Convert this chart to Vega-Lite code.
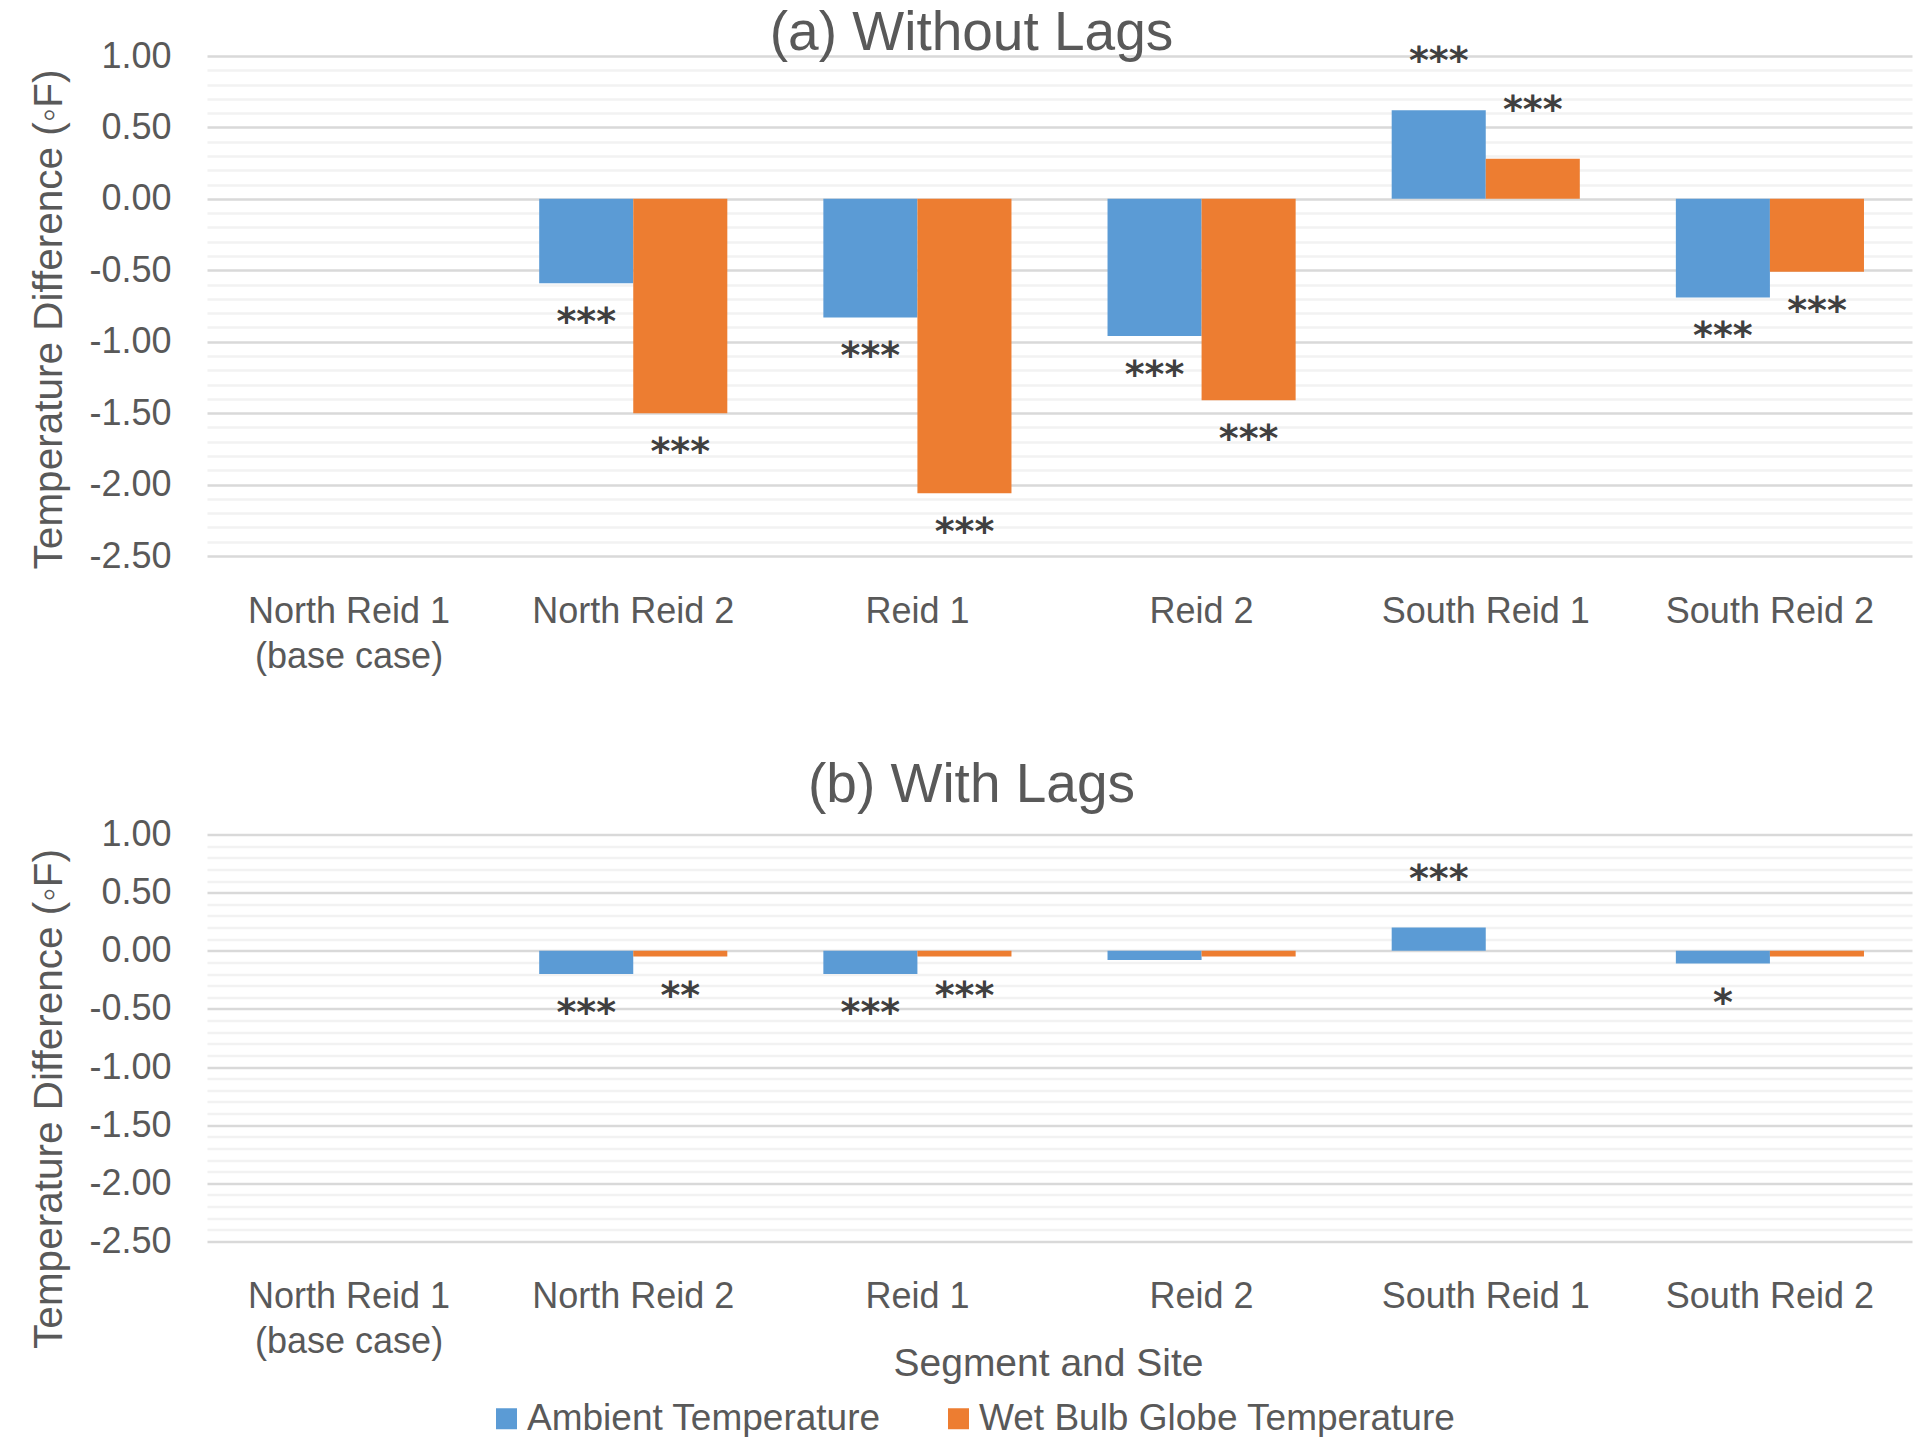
{
  "$schema": "https://vega.github.io/schema/vega-lite/v6.json",
  "background": "white",
  "autosize": {"type": "pad"},
  "padding": {"left": 28, "top": 6, "right": 8, "bottom": 4},
  "bounds": "flush",
  "spacing": 278.5,
  "config": {
    "font": "Liberation Sans",
    "view": {"stroke": null},
    "axis": {
      "labelFont": "Liberation Sans",
      "titleFont": "Liberation Sans",
      "labelColor": "#595959",
      "titleColor": "#595959",
      "titleFontWeight": "normal"
    },
    "title": {"font": "Liberation Sans", "color": "#595959", "fontWeight": "normal", "fontSize": 55}
  },
  "datasets": {
    "without_lags": [
      {"segment": "North Reid 1 (base case)", "series": "Ambient Temperature", "value": 0, "sig": ""},
      {"segment": "North Reid 1 (base case)", "series": "Wet Bulb Globe Temperature", "value": 0, "sig": ""},
      {"segment": "North Reid 2", "series": "Ambient Temperature", "value": -0.59, "sig": "***"},
      {"segment": "North Reid 2", "series": "Wet Bulb Globe Temperature", "value": -1.50, "sig": "***"},
      {"segment": "Reid 1", "series": "Ambient Temperature", "value": -0.83, "sig": "***"},
      {"segment": "Reid 1", "series": "Wet Bulb Globe Temperature", "value": -2.06, "sig": "***"},
      {"segment": "Reid 2", "series": "Ambient Temperature", "value": -0.96, "sig": "***"},
      {"segment": "Reid 2", "series": "Wet Bulb Globe Temperature", "value": -1.41, "sig": "***"},
      {"segment": "South Reid 1", "series": "Ambient Temperature", "value": 0.62, "sig": "***"},
      {"segment": "South Reid 1", "series": "Wet Bulb Globe Temperature", "value": 0.28, "sig": "***"},
      {"segment": "South Reid 2", "series": "Ambient Temperature", "value": -0.69, "sig": "***"},
      {"segment": "South Reid 2", "series": "Wet Bulb Globe Temperature", "value": -0.51, "sig": "***"}
    ],
    "with_lags": [
      {"segment": "North Reid 1 (base case)", "series": "Ambient Temperature", "value": 0, "sig": ""},
      {"segment": "North Reid 1 (base case)", "series": "Wet Bulb Globe Temperature", "value": 0, "sig": ""},
      {"segment": "North Reid 2", "series": "Ambient Temperature", "value": -0.20, "sig": "***"},
      {"segment": "North Reid 2", "series": "Wet Bulb Globe Temperature", "value": -0.05, "sig": "**"},
      {"segment": "Reid 1", "series": "Ambient Temperature", "value": -0.20, "sig": "***"},
      {"segment": "Reid 1", "series": "Wet Bulb Globe Temperature", "value": -0.05, "sig": "***"},
      {"segment": "Reid 2", "series": "Ambient Temperature", "value": -0.08, "sig": ""},
      {"segment": "Reid 2", "series": "Wet Bulb Globe Temperature", "value": -0.05, "sig": ""},
      {"segment": "South Reid 1", "series": "Ambient Temperature", "value": 0.20, "sig": "***"},
      {"segment": "South Reid 1", "series": "Wet Bulb Globe Temperature", "value": 0.00, "sig": ""},
      {"segment": "South Reid 2", "series": "Ambient Temperature", "value": -0.11, "sig": "*"},
      {"segment": "South Reid 2", "series": "Wet Bulb Globe Temperature", "value": -0.05, "sig": ""}
    ]
  },
  "vconcat": [
    {
      "width": 1705,
      "height": 500,
      "data": {"name": "without_lags"},
      "title": {"text": "(a) Without Lags", "anchor": "middle", "dx": -88, "offset": -67, "baseline": "alphabetic"},
      "encoding": {
        "x": {
          "field": "segment", "type": "nominal",
          "sort": ["North Reid 1 (base case)", "North Reid 2", "Reid 1", "Reid 2", "South Reid 1", "South Reid 2"],
          "scale": {"paddingInner": 0.338, "paddingOuter": 0.169},
          "axis": {
            "title": null,
            "labelExpr": "datum.value == 'North Reid 1 (base case)' ? ['North Reid 1', '(base case)'] : datum.value",
            "labelAngle": 0, "labelFontSize": 36, "labelBaseline": "alphabetic", "labelPadding": 66,
            "labelLineHeight": 45, "ticks": false, "tickSize": 0, "domain": false, "grid": false, "labelLimit": 0
          }
        },
        "xOffset": {
          "field": "series", "type": "nominal",
          "sort": ["Ambient Temperature", "Wet Bulb Globe Temperature"],
          "scale": {"paddingInner": 0, "paddingOuter": 0}
        },
        "y": {
          "field": "value", "type": "quantitative",
          "scale": {"domain": [-2.5, 1], "nice": false},
          "axis": {
            "title": "Temperature Difference (\u25e6F)",
            "values": [1, 0.9, 0.8, 0.7, 0.6, 0.5, 0.4, 0.3, 0.2, 0.1, 0, -0.1, -0.2, -0.3, -0.4, -0.5, -0.6, -0.7, -0.8, -0.9, -1, -1.1, -1.2, -1.3, -1.4, -1.5, -1.6, -1.7, -1.8, -1.9, -2, -2.1, -2.2, -2.3, -2.4, -2.5],
            "grid": true,
            "gridColor": {"condition": {"test": "abs(datum.value * 2 - round(datum.value * 2)) < 0.001", "value": "#D9D9D9"}, "value": "#F2F2F2"},
            "gridWidth": 2.5,
            "ticks": false, "tickSize": 0, "domain": false,
            "labelExpr": "abs(datum.value * 2 - round(datum.value * 2)) < 0.001 ? replace(format(datum.value, '.2f'), '\u2212', '-') : ''",
            "labelOverlap": false, "labelFlush": false, "labelBound": false,
            "labelFontSize": 36, "labelPadding": 36,
            "titleFontSize": 40.5, "titleAngle": -90, "titleX": -146, "titleY": 263,
            "titleAlign": "center", "titleBaseline": "alphabetic"
          }
        }
      },
      "layer": [
        {
          "mark": {"type": "bar"},
          "encoding": {
            "color": {
              "field": "series", "type": "nominal",
              "scale": {"domain": ["Ambient Temperature", "Wet Bulb Globe Temperature"], "range": ["#5B9BD5", "#ED7D31"]},
              "legend": {
                "title": null, "orient": "none", "direction": "horizontal", "legendX": 281, "legendY": 1344,
                "symbolType": "square", "symbolSize": 441, "symbolStrokeWidth": 0,
                "labelFontSize": 37, "labelColor": "#595959", "labelFont": "Liberation Sans", "labelLimit": 0,
                "labelOffset": 2, "columnPadding": 59, "padding": 0
              }
            }
          }
        },
        {
          "transform": [{"filter": "datum.value < 0 && datum.sig != ''"}],
          "mark": {"type": "text", "font": "DejaVu Sans", "fontSize": 38, "fontWeight": "bold", "color": "#404040", "align": "center", "baseline": "alphabetic", "dy": 51},
          "encoding": {"text": {"field": "sig"}}
        },
        {
          "transform": [{"filter": "datum.value > 0 && datum.sig != ''"}],
          "mark": {"type": "text", "font": "DejaVu Sans", "fontSize": 38, "fontWeight": "bold", "color": "#404040", "align": "center", "baseline": "alphabetic", "dy": -37},
          "encoding": {"text": {"field": "sig"}}
        }
      ]
    },
    {
      "width": 1705,
      "height": 407,
      "data": {"name": "with_lags"},
      "title": {"text": "(b) With Lags", "anchor": "middle", "dx": -88, "offset": -40, "baseline": "alphabetic"},
      "encoding": {
        "x": {
          "field": "segment", "type": "nominal",
          "sort": ["North Reid 1 (base case)", "North Reid 2", "Reid 1", "Reid 2", "South Reid 1", "South Reid 2"],
          "scale": {"paddingInner": 0.338, "paddingOuter": 0.169},
          "axis": {
            "title": "Segment and Site",
            "labelExpr": "datum.value == 'North Reid 1 (base case)' ? ['North Reid 1', '(base case)'] : datum.value",
            "labelAngle": 0, "labelFontSize": 36, "labelBaseline": "alphabetic", "labelPadding": 66,
            "labelLineHeight": 45, "ticks": false, "tickSize": 0, "domain": false, "grid": false, "labelLimit": 0,
            "titleFontSize": 39, "titleX": 841, "titleY": 134, "titleAlign": "center", "titleBaseline": "alphabetic"
          }
        },
        "xOffset": {
          "field": "series", "type": "nominal",
          "sort": ["Ambient Temperature", "Wet Bulb Globe Temperature"],
          "scale": {"paddingInner": 0, "paddingOuter": 0}
        },
        "y": {
          "field": "value", "type": "quantitative",
          "scale": {"domain": [-2.5, 1], "nice": false},
          "axis": {
            "title": "Temperature Difference (\u25e6F)",
            "values": [1, 0.9, 0.8, 0.7, 0.6, 0.5, 0.4, 0.3, 0.2, 0.1, 0, -0.1, -0.2, -0.3, -0.4, -0.5, -0.6, -0.7, -0.8, -0.9, -1, -1.1, -1.2, -1.3, -1.4, -1.5, -1.6, -1.7, -1.8, -1.9, -2, -2.1, -2.2, -2.3, -2.4, -2.5],
            "grid": true,
            "gridColor": {"condition": {"test": "abs(datum.value * 2 - round(datum.value * 2)) < 0.001", "value": "#D9D9D9"}, "value": "#F2F2F2"},
            "gridWidth": 2.5,
            "ticks": false, "tickSize": 0, "domain": false,
            "labelExpr": "abs(datum.value * 2 - round(datum.value * 2)) < 0.001 ? replace(format(datum.value, '.2f'), '\u2212', '-') : ''",
            "labelOverlap": false, "labelFlush": false, "labelBound": false,
            "labelFontSize": 36, "labelPadding": 36,
            "titleFontSize": 40.5, "titleAngle": -90, "titleX": -146, "titleY": 264,
            "titleAlign": "center", "titleBaseline": "alphabetic"
          }
        }
      },
      "layer": [
        {
          "mark": {"type": "bar"},
          "encoding": {
            "color": {
              "field": "series", "type": "nominal",
              "scale": {"domain": ["Ambient Temperature", "Wet Bulb Globe Temperature"], "range": ["#5B9BD5", "#ED7D31"]},
              "legend": {
                "title": null, "orient": "none", "direction": "horizontal", "legendX": 281, "legendY": 1344,
                "symbolType": "square", "symbolSize": 441, "symbolStrokeWidth": 0,
                "labelFontSize": 37, "labelColor": "#595959", "labelFont": "Liberation Sans", "labelLimit": 0,
                "labelOffset": 2, "columnPadding": 59, "padding": 0
              }
            }
          }
        },
        {
          "transform": [{"filter": "datum.value < 0 && datum.sig != ''"}],
          "mark": {"type": "text", "font": "DejaVu Sans", "fontSize": 38, "fontWeight": "bold", "color": "#404040", "align": "center", "baseline": "alphabetic", "dy": 51},
          "encoding": {"text": {"field": "sig"}}
        },
        {
          "transform": [{"filter": "datum.value > 0 && datum.sig != ''"}],
          "mark": {"type": "text", "font": "DejaVu Sans", "fontSize": 38, "fontWeight": "bold", "color": "#404040", "align": "center", "baseline": "alphabetic", "dy": -37},
          "encoding": {"text": {"field": "sig"}}
        }
      ]
    }
  ],
  "resolve": {"scale": {"color": "shared"}}
}
